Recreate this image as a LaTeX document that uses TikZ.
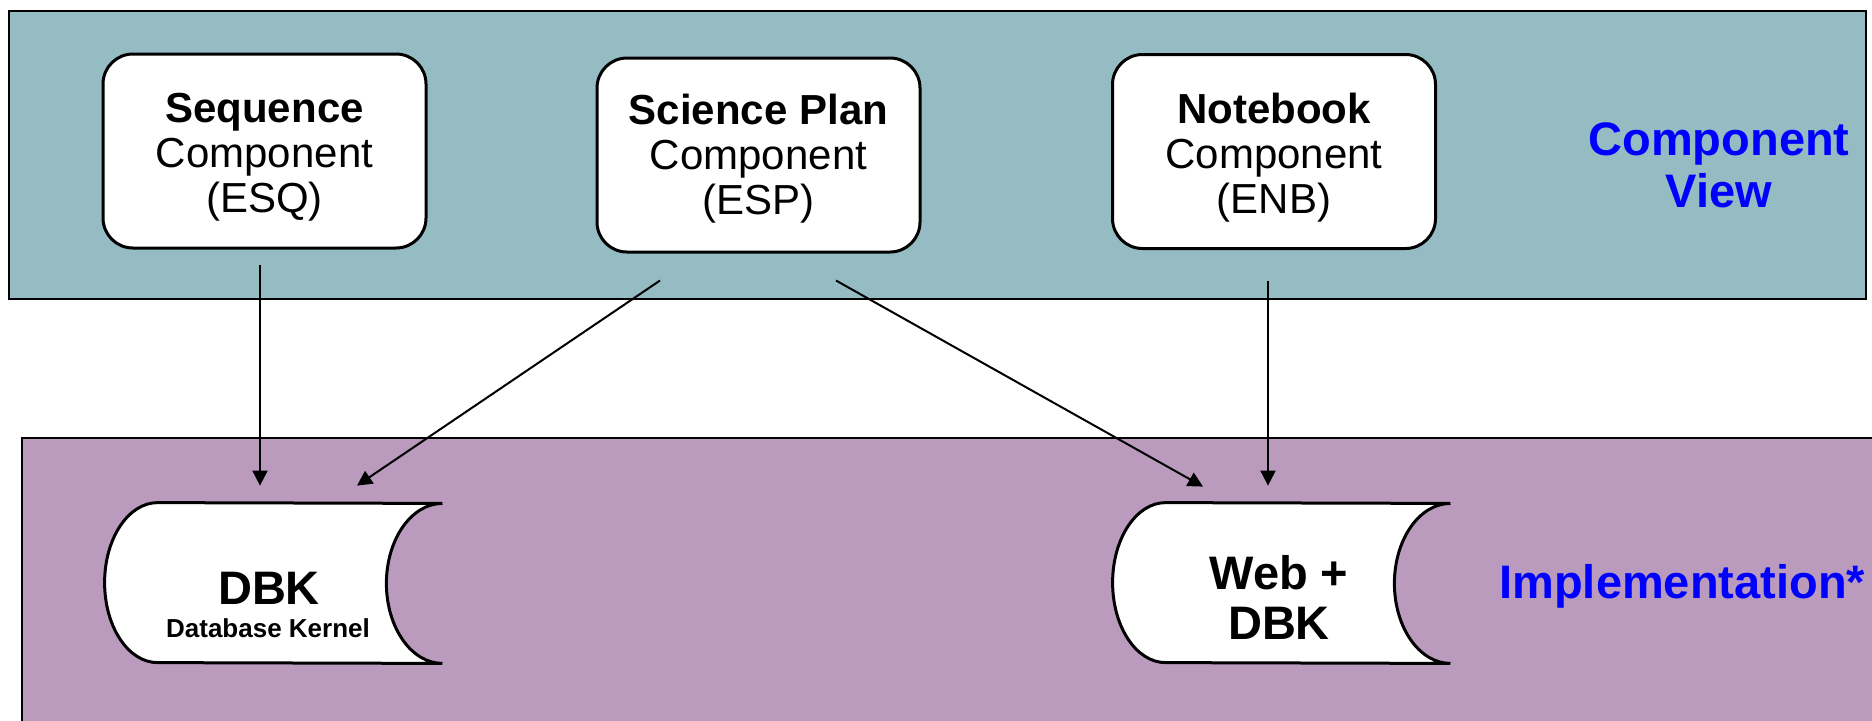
\documentclass[tikz,border=0pt]{standalone}
\usepackage{fontspec}
\setmainfont{Liberation Sans}
\usetikzlibrary{arrows.meta}
\definecolor{viewteal}{HTML}{95BBC3}
\definecolor{implpurple}{HTML}{BA9BBE}
\definecolor{labelblue}{HTML}{0000FF}

\begin{document}
\begin{tikzpicture}[x=0.5pt,y=-0.5pt,>={Triangle[length=7.5pt,width=7.5pt]},
                    band/.style={draw=black,line width=1pt},
                    comp node/.style={rectangle,rounded corners=15pt,draw,line width=1.5pt,fill=white,
                      minimum width=161.5pt,minimum height=97pt,inner sep=0pt},
                    comp text/.style={inner sep=0pt,align=center,font=\fontsize{21}{22.5}\selectfont},
                    store node/.style={rectangle,minimum width=168.5pt,minimum height=80pt,inner sep=0pt},
                    store line/.style={draw,line width=1.5pt,fill=white},
                    store text/.style={inner sep=0pt,font=\fontsize{23.5}{25}\selectfont\bfseries},
                    view label/.style={inner sep=0pt,text=labelblue,align=center,
                      font=\fontsize{23.5}{26}\selectfont\bfseries},
                    link/.style={->,line width=1pt}]
  \useasboundingbox (0,0) rectangle (1872,720);
  \clip (0,0) rectangle (1872,720);
  \fill[white] (0,0) rectangle (1872,720);

  % the two layers
  \draw[band,fill=viewteal] (9,11) rectangle (1866,299);
  \draw[band,fill=implpurple] (22,438) rectangle (1900,740);

  % components
  \node[comp node] (esq) at (264.5,151) {};
  \node[comp node] (esp) at (758.5,155) {};
  \node[comp node] (enb) at (1274,151.5) {};
  \node[comp text] (esqtxt) at ([yshift=-3pt]esq.center) {\textbf{Sequence}\\Component\\(ESQ)};
  \node[comp text] (esptxt) at ([yshift=-2pt]esp.center) {\textbf{Science Plan}\\Component\\(ESP)};
  \node[comp text] (enbtxt) at ([yshift=-3pt]enb.center) {\textbf{Notebook}\\Component\\(ENB)};

  % implementation stores
  \node[store node] (dbk) at (273.5,583) {};
  \node[store node] (web) at (1281.5,583) {};
  \foreach \s in {dbk,web}
    \draw[store line] ([xshift=26.5pt]\s.north west) arc (90:270:26.5pt and 40pt)
      -- (\s.south east) arc (270:90:28pt and 40pt) -- cycle;

  \node[store text,anchor=base] (dbkname) at (269,604) {DBK};
  \node[store text,anchor=base,font=\fontsize{13}{13}\selectfont\bfseries] (dbkfull) at (268,637) {Database Kernel};
  \node[store text,align=center] (webname) at (1279,597) {Web +\\DBK};

  % layer labels
  \node[view label] (complbl) at (1719,165) {Component\\View};
  \node[view label,anchor=base west] (impllbl) at (1499,598) {Implementation*};

  % links
  \draw[link,shorten <=7.5pt,shorten >=8.5pt] ([xshift=-2.25pt]esq.south) -- ([xshift=-2.25pt]esq.south |- dbk.north);
  \draw[link] ([shift={(-98.5,27)}]esp.south) -- ([shift={(83.5,-17)}]dbk.north);
  \draw[link] ([shift={(77.5,27)}]esp.south) -- ([shift={(-78.5,-16)}]web.north);
  \draw[link,shorten <=15.5pt,shorten >=8.5pt] ([xshift=-3pt]enb.south) -- ([xshift=-3pt]enb.south |- web.north);
\end{tikzpicture}
\end{document}
